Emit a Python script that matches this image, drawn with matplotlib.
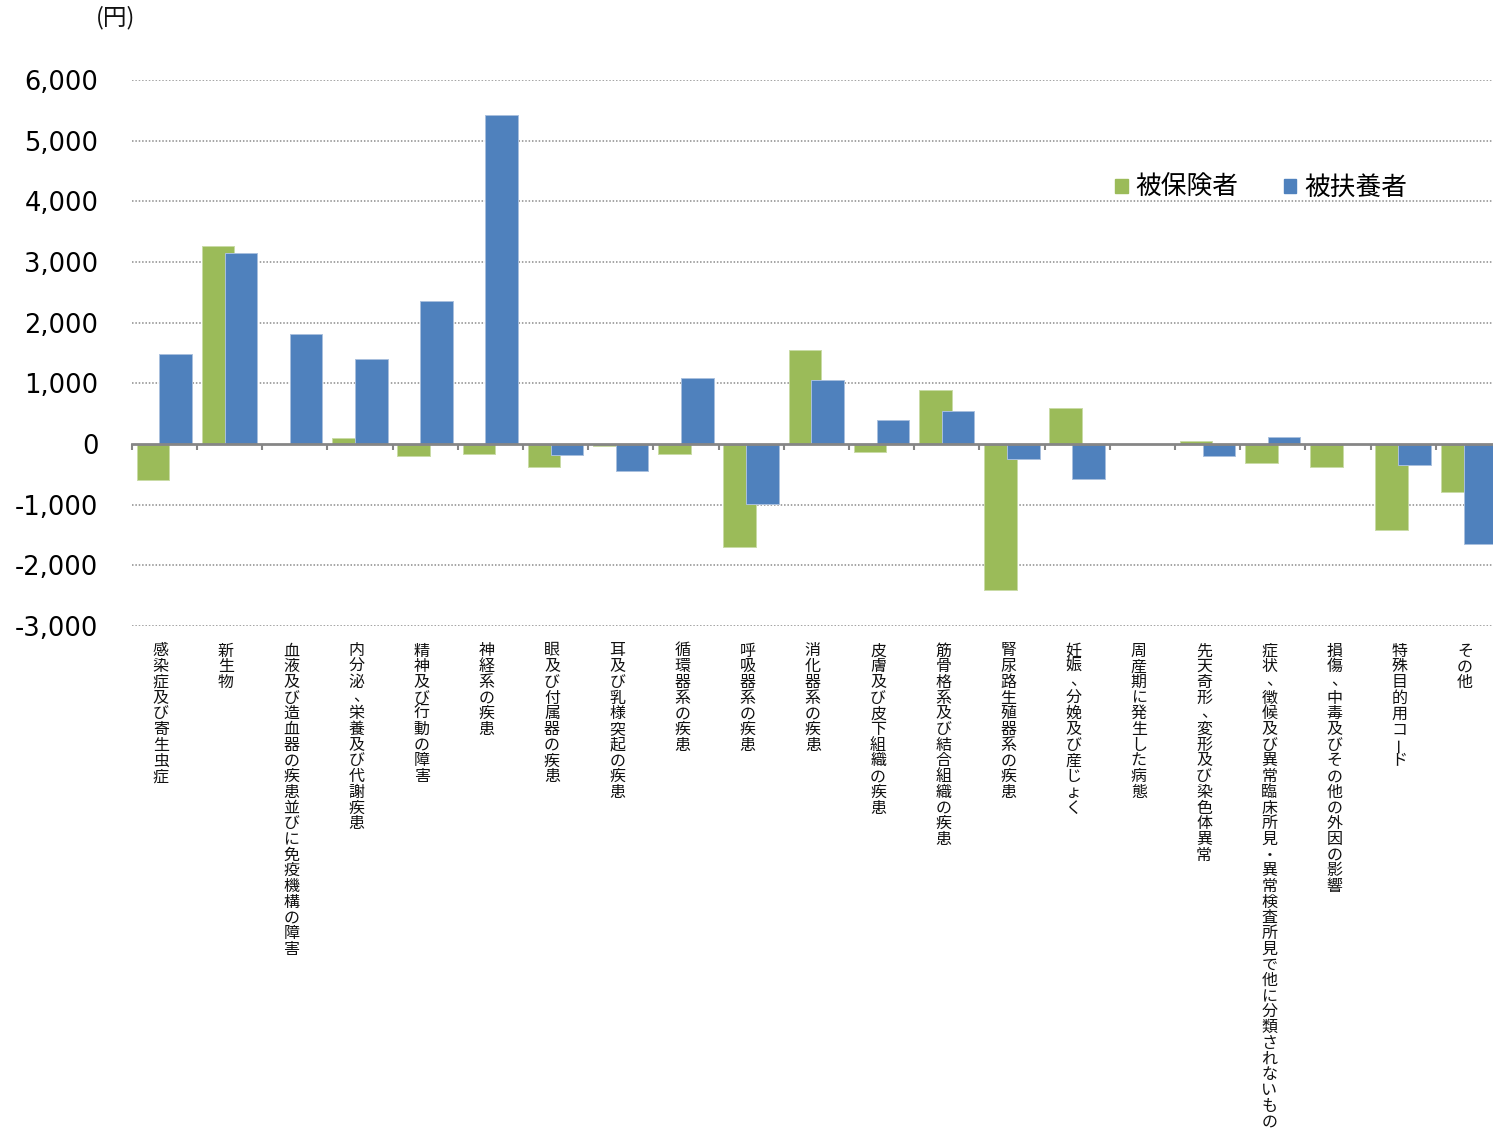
import numpy as np
import matplotlib
matplotlib.use("Agg")
import matplotlib.pyplot as plt
from matplotlib.patches import Patch

plt.rcParams['font.family'] = ['DejaVu Sans', 'Noto Sans CJK JP']

categories = ["感染症及び寄生虫症", "新生物", "血液及び造血器の疾患並びに免疫機構の障害",
              "内分泌、栄養及び代謝疾患", "精神及び行動の障害", "神経系の疾患",
              "眼及び付属器の疾患", "耳及び乳様突起の疾患", "循環器系の疾患",
              "呼吸器系の疾患", "消化器系の疾患", "皮膚及び皮下組織の疾患",
              "筋骨格系及び結合組織の疾患", "腎尿路生殖器系の疾患", "妊娠、分娩及び産じょく",
              "周産期に発生した病態", "先天奇形、変形及び染色体異常",
              "症状、徴候及び異常臨床所見・異常検査所見で他に分類されないもの",
              "損傷、中毒及びその他の外因の影響", "特殊目的用コード", "その他"]

hihoken = [-600, 3260, 0, 105, -195, -165, -385, -40, -170, -1705, 1550,
           -140, 895, -2405, 595, 0, 50, -305, -375, -1415, -795]
hifuyo = [1480, 3150, 1815, 1400, 2355, 5425, -185, -450, 1090, -995, 1055,
          400, 540, -255, -570, 0, -195, 110, 0, -340, -1645]

series_names = ["被保険者", "被扶養者"]
green = "#9BBB59"
blue = "#4F81BD"

W, H = 1493, 1137
fig = plt.figure(figsize=(W / 100, H / 100), dpi=100)
ax = fig.add_axes([131.7 / W, 1 - 626 / H, (1501 - 131.7) / W, (626 - 80) / H])

x = np.arange(len(categories))
bw = 0.5
ax.bar(x - 0.175, hihoken, bw, color=green, edgecolor="#c9dba6", linewidth=0.7, zorder=3)
ax.bar(x + 0.175, hifuyo, bw, color=blue, edgecolor="#a9c0de", linewidth=0.7, zorder=4)

ax.set_xlim(-0.5, len(categories) - 0.5)
ax.set_ylim(-3000, 6000)
ax.set_yticks(np.arange(-3000, 6001, 1000))
ax.set_yticklabels([f"{v:,}" for v in range(-3000, 6001, 1000)], fontsize=18.5)
ax.tick_params(axis='y', length=0, pad=24)

ax.set_xticks(np.arange(-0.5, len(categories), 1.0))
ax.set_xticklabels([])
ax.tick_params(axis='x', direction='out', length=4, width=1.5, color="#868686")

for s in ['left', 'right', 'top']:
    ax.spines[s].set_visible(False)
ax.spines['bottom'].set_position(('data', 0))
ax.spines['bottom'].set_color("#868686")
ax.spines['bottom'].set_linewidth(2)
ax.spines['bottom'].set_zorder(5)

for v in range(-3000, 6001, 1000):
    if v != 0:
        ax.axhline(v, color="#8c8c8c", linestyle=(0, (1, 1.2)), linewidth=1.1, zorder=1)

# vertical category labels, one character at a time
pitch = 15.7 / H
y0 = 1 - 651 / H
txt = dict(fontsize=11.5, family='Noto Sans CJK JP', color="#111111", ha='center', va='center')
for i, lab in enumerate(categories):
    xc = ax.transData.transform((i, 0))[0] / W - 3.5 / W
    for j, ch in enumerate(lab):
        yy = y0 - j * pitch
        if ch == "、":
            fig.text(xc + 5 / W, yy + 1.5 / H, ch, **txt)
        elif ch == "ー":
            fig.text(xc, yy, ch, rotation=90, **txt)
        else:
            fig.text(xc, yy, ch, **txt)

fig.text(96 / W, 1 - 18 / H, "(円)", ha='left', va='center', fontsize=17,
         family='Noto Sans CJK JP', color="#111111")

handles = [Patch(color=green, label=series_names[0]), Patch(color=blue, label=series_names[1])]
fig.legend(handles=handles, loc='center left', bbox_to_anchor=(1115 / W, 1 - 188 / H),
           ncol=2, frameon=False, handlelength=0.5, handleheight=0.5,
           handletextpad=0.3, columnspacing=1.75, borderpad=0, borderaxespad=0,
           prop={'family': 'Noto Sans CJK JP', 'size': 18.5})

fig.savefig("out.png", dpi=100)
